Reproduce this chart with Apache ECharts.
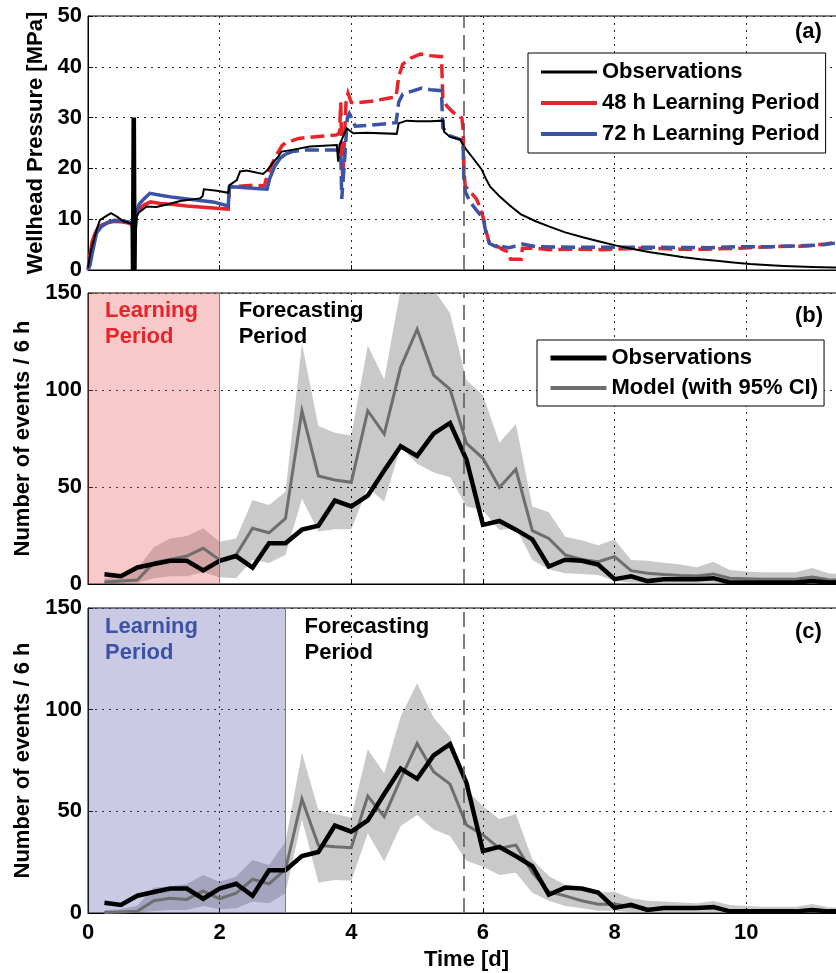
<!DOCTYPE html>
<html><head><meta charset="utf-8">
<script src="https://cdn.jsdelivr.net/npm/echarts@6/dist/echarts.min.js"></script>
<style>html,body{margin:0;padding:0;background:#fff}#c{width:836px;height:973px}</style>
</head><body><div id="c"></div>
<script>
// ---------- Panel (a): wellhead pressure [time d, MPa] ----------
const pressureObs = [[0,0.5],[0.03,3],[0.06,4.6],[0.1,6.5],[0.13,7.9],[0.18,9.8],[0.25,10.4],[0.35,11.2],[0.44,10.5],[0.54,9.6],[0.66,9.1],
  [0.665,0],[0.675,30],[0.685,0],[0.695,30],[0.705,0],[0.715,30],[0.725,0],[0.73,8],[0.74,10.5],[0.77,11.3],[0.89,12.5],[1.04,12.4],[1.2,12.9],
  [1.4,13.6],[1.7,14.1],[1.74,14.5],[1.76,15.9],[1.96,15.6],[2.13,15.2],[2.15,16.7],[2.26,17.7],[2.31,19.4],[2.41,19.6],[2.66,18.9],[2.72,19.6],
  [2.82,21.3],[2.89,22.3],[2.94,23.3],[3.08,23.6],[3.37,24.3],[3.78,24.6],[3.80,21.3],[3.82,24.6],[3.9,27],[3.93,27.9],[4.03,26.9],[4.23,27],
  [4.69,26.8],[4.72,28.9],[4.84,29.4],[5.0,29.3],[5.2,29.3],[5.40,29.4],[5.41,27.2],[5.5,26.2],[5.65,25.7],[5.73,24],[5.85,22],[5.91,21],
  [5.98,19.8],[6.05,17.8],[6.11,16.4],[6.26,14.4],[6.4,12.8],[6.57,11],[6.8,9.6],[7.02,8.5],[7.25,7.4],[7.53,6.4],[7.8,5.5],[8.03,4.8],[8.3,4.1],
  [8.54,3.5],[8.8,3.0],[9.05,2.5],[9.3,2.1],[9.55,1.8],[9.8,1.5],[10.06,1.2],[10.3,1.0],[10.57,0.8],[11.0,0.6],[11.33,0.5],[11.5,0.4]];
const pressure48Learn = [[0,0],[0.03,3],[0.06,5.5],[0.1,7],[0.15,8.3],[0.2,8.8],[0.3,9.3],[0.4,9.6],[0.5,9.5],[0.6,9.3],[0.67,9.0],[0.69,7.5],
  [0.71,7.8],[0.74,11],[0.78,12],[0.85,12.8],[0.95,13.4],[1.1,13.1],[1.3,12.9],[1.5,12.6],[1.7,12.4],[1.9,12.2],[2.0,12.1]];
const pressure48Fore = [[2.0,12.1],[2.13,12.0],[2.15,16.4],[2.3,16.5],[2.5,16.7],[2.68,16.6],[2.72,18.5],[2.8,21],[2.88,23],[2.95,24.5],[3.0,25],
  [3.2,25.9],[3.5,26.3],[3.78,26.6],[3.82,27],[3.84,33],[3.855,22],[3.87,18],[3.89,24],[3.92,33],[3.95,34.8],[4.0,33],[4.05,32.9],[4.3,33.2],
  [4.6,33.9],[4.68,34.1],[4.72,38],[4.78,40.5],[4.9,41.7],[5.05,42.5],[5.2,42.2],[5.37,42],[5.39,34],[5.45,32.3],[5.55,31],[5.68,29.9],
  [5.70,27.5],[5.71,20],[5.73,16.5],[5.8,15.5],[5.9,14],[5.95,12.5],[6.0,10.5],[6.05,7.5],[6.1,5.2],[6.2,4.8],[6.3,4.0],[6.38,3.6],[6.42,2.1],
  [6.58,2.1],[6.6,4.3],[6.8,4.3],[7.0,4.0],[7.4,4.1],[7.8,4.0],[8.4,4.3],[9.0,4.1],[9.4,4.1],[9.9,4.3],[10.4,4.6],[10.9,4.7],[11.2,5.1],
  [11.37,5.5],[11.5,5.8]];
const pressure72Learn = [[0,0],[0.03,1],[0.06,3],[0.1,5.5],[0.13,7.3],[0.2,8.5],[0.3,9.4],[0.4,9.8],[0.5,9.7],[0.6,9.5],[0.67,9.3],[0.69,7],
  [0.71,7.4],[0.74,11.5],[0.78,13],[0.85,14],[0.94,15.1],[1.1,14.7],[1.3,14.3],[1.5,14.0],[1.7,13.7],[1.9,13.4],[2.13,12.6],[2.15,16.4],
  [2.3,16.3],[2.5,16.1],[2.72,15.9],[2.76,18],[2.84,20.5],[2.92,22],[3.0,22.8]];
const pressure72Fore = [[3.0,22.8],[3.1,23.3],[3.3,23.6],[3.6,23.6],[3.8,23.6],[3.84,23],[3.855,14],[3.87,13.8],[3.9,22],[3.94,30],[3.97,30.8],
  [4.0,30],[4.06,28.3],[4.3,28.5],[4.68,29],[4.72,33],[4.78,34.6],[4.9,35.1],[5.07,35.8],[5.2,35.5],[5.37,35.3],[5.39,28],[5.5,26.4],
  [5.68,25.6],[5.70,24],[5.71,18],[5.73,15.5],[5.8,13.5],[5.9,11.8],[5.95,11],[6.0,10.5],[6.05,7],[6.1,5.2],[6.2,4.6],[6.25,5.2],[6.3,4.6],
  [6.4,4.4],[6.6,5.1],[6.8,4.6],[7.4,4.5],[8.4,4.5],[9.4,4.4],[9.9,4.6],[10.4,4.6],[10.9,4.8],[11.2,5.0],[11.5,5.6]];

// ---------- Panels (b),(c): number of events per 6 h ----------
const binTimes = [0.25,0.5,0.75,1,1.25,1.5,1.75,2,2.25,2.5,2.75,3,3.25,3.5,3.75,4,4.25,4.5,4.75,5,5.25,5.5,5.75,6,
  6.25,6.5,6.75,7,7.25,7.5,7.75,8,8.25,8.5,8.75,9,9.25,9.5,9.75,10,10.25,10.5,10.75,11,11.25,11.5];
const obsRate = [5,4,8.5,10.3,12,12,7,12,14.4,8.5,21,21,28,30,43,40,45.5,58.5,71,66,77.5,83,64,30.5,
  32.5,28,23,9,12.5,12,10,2.5,4,1.5,2.5,2.5,2.5,3,0.8,0.8,0.8,0.8,0.8,1.5,0.8,0.8];
const modelB = [1,1.5,2,11,12.7,14.4,18.4,12.4,15,28.7,26.4,33.8,89.3,55.7,53.6,52.4,89.3,77.3,111.7,131.3,107.7,100.3,72.5,64.8,
  49.8,59.1,27.5,23.5,15,12.7,11.5,14.1,6.9,5.6,4.9,4.4,4.1,5.2,3,2.7,2.5,2.5,2.5,3.6,2.2,2.0];
const upperB = [3,4,8,19,23.5,24.7,28.7,21.8,23.5,43.3,40.7,47.6,124,81.4,78,76.5,123,105.5,152,165,152,139.6,105,97.4,
  72.8,82.5,39.9,37,24.4,22.6,20,23,12.4,12,11,10,8.6,11.5,7.2,6.4,6,6,6,8.2,5.6,5];
const lowerB = [0,0,0.5,3,4,4,6,3.5,3,12.4,10.8,15,44,27,28.2,28.2,49.8,42.4,70.8,62,57.5,55,40,38,
  27.8,29,12.4,7.6,5.6,5.2,4.6,1.5,0.8,0.6,0.5,0.5,0.5,0.6,0.3,0.3,0.3,0.3,0.3,0.3,0.3,0.3];
const modelC = [0.2,0.5,0.8,6,7.2,6.7,10.8,7,9.7,16.6,14.3,21.5,56,33.3,32.6,32.1,57.5,47.4,66,83.4,69.5,63.4,43.3,38.4,
  31.8,33.4,19.8,10.5,8.4,6,4.3,4.4,3.1,1.8,2.3,2.5,2.3,2.3,1.1,0.8,0.7,0.7,1,1.5,0.7,0.7];
const upperC = [1.5,2,3.6,12.6,13,14.3,18.7,15.4,17.9,26.1,23.6,35,78.8,50.7,48.7,47,80.5,68.7,96.6,113,96.2,86.7,60.5,52.6,
  46.1,48.7,26.4,18.2,13.8,12.1,10,10.5,7.2,6,5.6,5.2,4.8,5.9,3.9,3.4,3.1,3.1,3.1,4.4,2.8,2.5];
const lowerC = [0,0,0,1,1.5,1.5,3.4,1.8,2.3,5.6,4.8,9.7,46.1,14.9,16.2,15.9,39.2,25.3,42.8,48.2,41.1,37.9,25.7,22.8,
  18.7,19.8,10,6,3.4,2.3,1.1,1.1,0.3,0.3,0.3,0.3,0.3,0.3,0.3,0.3,0.3,0.3,0.3,0.3,0.3,0.3];

const shutInTime = 5.71;
const learnEnd48 = 2, learnEnd72 = 3;
const panelLabels = ['(a)','(b)','(c)'];

const FONT = "'Liberation Sans', Arial, sans-serif";
const RED = '#e8232a', BLUE = '#3c52a5', GREY = '#6e6e6e';

function pairs(xs, ys){ return xs.map((x,i)=>[x, ys[i]]); }

function xAx(i){
  return {type:'value', gridIndex:i, min:0, max:11.5, interval:2,
    axisLine:{show:true, lineStyle:{color:'#000', width:1}},
    axisTick:{show:true, inside:true, length:5, lineStyle:{color:'#000'}},
    splitLine:{show:true, lineStyle:{color:'#222', type:[2,5], width:1}},
    axisLabel:{show:i===2, showMaxLabel:false, color:'#000', fontSize:22, fontWeight:'bold', fontFamily:FONT, margin:9},
    name: i===2 ? 'Time [d]' : '', nameLocation:'middle', nameGap:36,
    nameTextStyle:{color:'#000', fontSize:22, fontWeight:'bold', fontFamily:FONT}};
}
function yAx(i, max, interval, name, gap){
  return {type:'value', gridIndex:i, min:0, max:max, interval:interval,
    axisLine:{show:true, lineStyle:{color:'#000', width:1}},
    axisTick:{show:true, inside:true, length:5, lineStyle:{color:'#000'}},
    splitLine:{show:true, lineStyle:{color:'#222', type:[2,5], width:1}},
    axisLabel:{color:'#000', fontSize:22, fontWeight:'bold', fontFamily:FONT, margin:6},
    name:name, nameLocation:'middle', nameGap:gap,
    nameTextStyle:{color:'#000', fontSize:22, fontWeight:'bold', fontFamily:FONT}};
}
function line(name, idx, data, color, width, dash, z){
  return {type:'line', name:name, xAxisIndex:idx, yAxisIndex:idx, data:data, symbol:'none', showSymbol:false,
    animation:false, silent:true, z:z||3, clip:true,
    lineStyle:{color:color, width:width, type:dash||'solid', cap:'butt', join:'miter'}, itemStyle:{color:color}};
}
function band(idx, upper, lower){
  return {type:'custom', xAxisIndex:idx, yAxisIndex:idx, z:1, clip:true, silent:true, animation:false,
    data:[[binTimes[0], lower[0]]],
    renderItem:function(params, api){
      const pts = [];
      for (let i=0;i<binTimes.length;i++) pts.push(api.coord([binTimes[i], upper[i]]));
      for (let i=binTimes.length-1;i>=0;i--) pts.push(api.coord([binTimes[i], lower[i]]));
      return {type:'polygon', shape:{points:pts}, style:{fill:'rgba(0,0,0,0.21)'}};
    }};
}
function shutInLine(extra){
  const data = [{xAxis:shutInTime, lineStyle:{color:'#555', type:[15,7], width:1.5}}];
  if (extra) data.push(extra);
  return {silent:true, symbol:['none','none'], label:{show:false}, animation:false, data:data};
}
function periodAreas(endT, color, textColor, posL, posF){
  const lbl = (txt, c, pos)=>({show:true, position:pos, formatter:txt, color:c, fontSize:22, fontWeight:'bold',
    fontFamily:FONT, lineHeight:26, align:'left', verticalAlign:'top'});
  return {silent:true, animation:false, z:2,
    data:[
      [{xAxis:0, itemStyle:{color:color}, label:lbl('Learning\nPeriod', textColor, posL)}, {xAxis:endT}],
      [{xAxis:endT, itemStyle:{color:'rgba(0,0,0,0)'}, label:lbl('Forecasting\nPeriod', '#000', posF)}, {xAxis:11.5}]
    ]};
}

const txt = {color:'#000', fontSize:22, fontWeight:'bold', fontFamily:FONT};
const noSym = {color:'rgba(0,0,0,0)', borderWidth:0, opacity:0};
const gridBase = {left:88, right:-9, show:true, borderColor:'#000', borderWidth:1, backgroundColor:'transparent',
  containLabel:false, outerBoundsMode:'none'};

const option = {
  animation:false,
  backgroundColor:'#fff',
  textStyle:{fontFamily:FONT},
  title: panelLabels.map((t,i)=>({text:t, left:795, top:[21,305,621][i], padding:0,
    textStyle:{color:'#000', fontSize:22, fontWeight:'bold', fontFamily:FONT}})),
  grid:[
    Object.assign({top:16, height:254}, gridBase),
    Object.assign({top:293, height:291}, gridBase),
    Object.assign({top:608, height:305}, gridBase)
  ],
  xAxis:[xAx(0), xAx(1), xAx(2)],
  yAxis:[yAx(0,50,10,'Wellhead Pressure [MPa]',38), yAx(1,150,50,'Number of events / 6 h',53), yAx(2,150,50,'Number of events / 6 h',53)],
  legend:[
    {orient:'vertical', left:528, top:53, padding:[8,6,8,11], itemWidth:56, itemHeight:22, itemGap:9,
     borderColor:'#000', borderWidth:1, backgroundColor:'#fff', selectedMode:false, textStyle:txt, z:10, itemStyle:noSym,
     data:[{name:'Observations', lineStyle:{width:3}}, {name:'48 h Learning Period', lineStyle:{width:4}}, {name:'72 h Learning Period', lineStyle:{width:4}}]},
    {orient:'vertical', left:537, top:340, padding:[7,6,7,11], itemWidth:56, itemHeight:22, itemGap:8,
     borderColor:'#000', borderWidth:1, backgroundColor:'#fff', selectedMode:false, textStyle:txt, z:10, itemStyle:noSym,
     formatter:(n)=>n.trim(),
     data:[{name:'Observations ', lineStyle:{width:5}}, {name:'Model (with 95% CI)', lineStyle:{width:4}}]}
  ],
  series:[
    // panel a
    line('48 h Learning Period', 0, pressure48Learn, RED, 3.5),
    line('48 h forecast', 0, pressure48Fore, RED, 3.5, [14,6]),
    line('72 h Learning Period', 0, pressure72Learn, BLUE, 3.5),
    line('72 h forecast', 0, pressure72Fore, BLUE, 3.5, [14,6]),
    Object.assign(line('Observations', 0, pressureObs, '#000', 2, null, 4), {markLine:shutInLine()}),
    // panel b
    band(1, upperB, lowerB),
    Object.assign(line('Model (with 95% CI)', 1, pairs(binTimes, modelB), GREY, 3),
      {markArea:periodAreas(learnEnd48, 'rgba(232,90,90,0.33)', RED, [17,5], [19,5])}),
    Object.assign(line('Observations ', 1, pairs(binTimes, obsRate), '#000', 4.5, null, 4),
      {markLine:shutInLine({xAxis:learnEnd48, lineStyle:{color:'#e05a5a', type:'solid', width:1}})}),
    // panel c
    band(2, upperC, lowerC),
    Object.assign(line('Model c', 2, pairs(binTimes, modelC), GREY, 3),
      {markArea:periodAreas(learnEnd72, 'rgba(80,80,170,0.3)', BLUE, [17,6], [19,6])}),
    Object.assign(line('Observations c', 2, pairs(binTimes, obsRate), '#000', 4.5, null, 4),
      {markLine:shutInLine({xAxis:learnEnd72, lineStyle:{color:'#6a78bb', type:'solid', width:1}})})
  ]
};
const chart = echarts.init(document.getElementById('c'), null, {renderer:'canvas'});
chart.setOption(option);
</script></body></html>
